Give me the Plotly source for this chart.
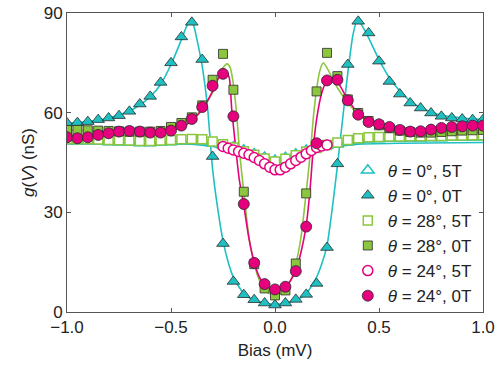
import plotly.graph_objects as go

# bias points of the measured spectra (mV)
bias = [round(-1 + 0.05 * i, 2) for i in range(41)]
bias_fine = [round(-0.25 + 0.025 * i, 3) for i in range(21)]

# measured conductance g(V) in nS
cyan_0T = [56.9, 57.0, 57.3, 57.9, 58.4, 59.1, 60.4, 62.6, 64.9, 69.1, 75.0, 82.8, 87.2, 76.0, 46.8,
           20.6, 9.2, 5.2, 3.7, 2.7, 2.1, 2.7, 3.8, 5.3, 8.6, 19.4, 44.6, 74.5, 87.5, 84.0,
           75.5, 69.4, 65.6, 62.9, 61.4, 59.9, 58.9, 58.4, 58.1, 57.9, 57.9]
green_5T = [52.0, 52.0, 52.0, 51.9, 51.8, 51.7, 51.6, 51.5, 51.5, 51.6, 51.8, 52.0, 52.1, 52.0, 51.3,
            50.5, 49.5, 48.4, 47.3, 46.2, 45.3, 46.1, 47.2, 48.3, 49.4, 50.3, 51.0, 51.8, 52.3, 52.6,
            52.7, 52.8, 52.8, 52.9, 52.9, 53.0, 53.0, 53.1, 53.1, 53.2, 53.2]
cyan_5T = [51.4, 51.4, 51.4, 51.3, 51.2, 51.1, 51.0, 50.9, 50.9, 51.0, 51.2, 51.4, 51.5, 51.4, 50.8,
           50.2, 49.6, 48.7, 47.6, 46.5, 45.6, 46.4, 47.5, 48.6, 49.5, 50.1, 50.5, 51.2, 51.7, 52.0,
           52.1, 52.2, 52.2, 52.3, 52.3, 52.4, 52.4, 52.5, 52.5, 52.6, 52.6]
green_0T = [54.8, 54.8, 54.7, 54.6, 54.5, 54.4, 54.3, 54.3, 54.3, 54.5, 55.7, 56.9, 58.6, 62.2, 69.9,
            77.7, 66.9, 36.2, 14.4, 7.1, 5.0, 6.5, 14.6, 35.7, 66.4, 78.0, 71.0, 64.0, 59.9, 57.5,
            56.2, 55.3, 54.6, 54.2, 54.0, 54.0, 54.2, 54.4, 54.6, 54.7, 54.8]
pink_0T = [52.6, 52.3, 52.6, 53.3, 53.8, 54.3, 54.5, 54.3, 54.0, 54.0, 54.6, 56.1, 58.1, 61.7, 68.1,
           71.7, 58.9, 32.5, 14.8, 8.4, 6.8, 7.6, 12.3, 25.7, 50.8, 69.7, 69.9, 63.7, 59.4, 57.2,
           56.5, 55.7, 54.8, 54.3, 54.4, 54.9, 55.4, 55.7, 55.9, 56.1, 56.1]
pink_5T = [49.8, 49.3, 48.8, 48.3, 47.8, 47.3, 46.5, 45.6, 44.6, 43.6, 42.8,
           42.8, 43.6, 44.6, 45.6, 46.6, 47.6, 48.6, 49.5, 50.0, 50.3]

# fitted curves
cyan_fit_x = [-1.0, -0.9, -0.8, -0.7, -0.65, -0.6, -0.55, -0.5, -0.45, -0.425, -0.405, -0.39, -0.375,
              -0.35, -0.325, -0.3, -0.275, -0.25, -0.225, -0.2, -0.15, -0.1, -0.05, 0.0, 0.05, 0.1,
              0.15, 0.2, 0.225, 0.25, 0.275, 0.3, 0.325, 0.35, 0.375, 0.395, 0.41, 0.425, 0.45, 0.5,
              0.55, 0.6, 0.65, 0.7, 0.8, 0.9, 1.0]
cyan_fit_y = [56.8, 57.3, 58.4, 60.5, 62.3, 64.8, 68.5, 74.5, 82.0, 86.0, 87.8, 86.0, 82.0,
              74.0, 62.0, 43.0, 31.0, 21.5, 15.0, 10.5, 5.5, 3.5, 2.7, 2.3, 2.7, 3.5,
              5.5, 10.5, 14.5, 20.0, 31.0, 44.0, 58.0, 72.0, 83.5, 87.8, 87.0, 85.5, 82.5, 76.0,
              70.5, 66.5, 63.5, 61.5, 59.2, 58.4, 57.9]
green_fit_x = [-1.0, -0.8, -0.6, -0.5, -0.45, -0.4, -0.35, -0.3, -0.275, -0.25, -0.23, -0.215, -0.2,
               -0.185, -0.17, -0.15, -0.125, -0.1, -0.075, -0.05, -0.025, 0.0, 0.025, 0.05, 0.075,
               0.1, 0.125, 0.15, 0.17, 0.185, 0.2, 0.215, 0.232, 0.25, 0.275, 0.3, 0.35, 0.4, 0.45,
               0.5, 0.6, 0.7, 0.8, 1.0]
green_fit_y = [54.8, 54.4, 54.5, 55.3, 56.5, 58.3, 61.2, 66.0, 70.0, 73.5, 74.7, 73.5, 68.5,
               60.0, 48.0, 36.0, 22.5, 14.5, 9.5, 6.8, 5.5, 5.1, 5.5, 6.8, 9.5,
               14.5, 22.5, 36.0, 48.0, 59.0, 67.0, 72.5, 75.0, 73.5, 70.5, 67.5, 63.0, 59.5, 57.3,
               56.0, 54.8, 54.2, 54.3, 54.8]
pink_fit_x = [-1.0, -0.8, -0.6, -0.5, -0.45, -0.4, -0.35, -0.3, -0.275, -0.25, -0.235, -0.22, -0.208,
              -0.19, -0.172, -0.15, -0.125, -0.1, -0.075, -0.05, -0.025, 0.0, 0.025, 0.05, 0.075,
              0.1, 0.125, 0.15, 0.168, 0.185, 0.2, 0.225, 0.25, 0.275, 0.3, 0.35, 0.4, 0.45, 0.5,
              0.6, 0.7, 0.8, 0.9, 1.0]
pink_fit_y = [52.6, 53.8, 54.2, 54.6, 55.6, 57.5, 61.0, 66.5, 70.0, 72.0, 72.3, 70.5, 61.0,
              50.0, 40.0, 32.0, 22.0, 15.0, 10.5, 8.2, 7.0, 6.6, 7.0, 7.8, 9.5,
              12.5, 18.0, 26.0, 36.5, 50.0, 58.0, 66.0, 69.7, 70.4, 69.3, 64.0, 59.8, 57.6, 56.4,
              54.9, 54.5, 55.3, 55.9, 56.1]
fit5T_x = [-1.0, -0.6, -0.4, -0.3, -0.2, -0.1, 0.0, 0.1, 0.2, 0.3, 0.4, 0.6, 1.0]
cyan_fit5T_y = [50.8, 50.8, 50.5, 49.8, 48.6, 47.0, 45.8, 47.0, 48.6, 49.8, 50.5, 50.8, 51.0]
green_fit5T_y = [51.5, 51.3, 51.2, 50.6, 49.2, 47.3, 45.5, 47.3, 49.2, 50.6, 51.6, 52.2, 52.6]

CYAN = "#1FC0C2"
GREEN = "#8CC63E"
PINK = "#E6007E"
EDGE = "#2a2a2a"

fig = go.Figure()

# fit lines (behind markers)
for fx, fy, col in [(fit5T_x, cyan_fit5T_y, CYAN), (fit5T_x, green_fit5T_y, GREEN),
                    (cyan_fit_x, cyan_fit_y, CYAN), (green_fit_x, green_fit_y, GREEN),
                    (pink_fit_x, pink_fit_y, PINK)]:
    fig.add_trace(go.Scatter(x=fx, y=fy, mode="lines", showlegend=False, hoverinfo="skip",
                             line=dict(color=col, width=1.6, shape="spline", smoothing=0.6)))

theta = "<i>θ</i>"
fig.add_trace(go.Scatter(x=bias, y=cyan_5T, mode="markers", name=f"{theta} = 0°, 5T", legendrank=1,
                         marker=dict(symbol="triangle-up", size=11, color="white",
                                     line=dict(color=CYAN, width=1.5))))
fig.add_trace(go.Scatter(x=bias, y=green_5T, mode="markers", name=f"{theta} = 28°, 5T", legendrank=3,
                         marker=dict(symbol="square", size=9, color="white",
                                     line=dict(color=GREEN, width=1.5))))
fig.add_trace(go.Scatter(x=bias_fine, y=pink_5T, mode="markers", name=f"{theta} = 24°, 5T", legendrank=5,
                         marker=dict(symbol="circle", size=10, color="white",
                                     line=dict(color=PINK, width=1.5))))
fig.add_trace(go.Scatter(x=bias, y=cyan_0T, mode="markers", name=f"{theta} = 0°, 0T", legendrank=2,
                         marker=dict(symbol="triangle-up", size=11, color=CYAN,
                                     line=dict(color=EDGE, width=0.8))))
fig.add_trace(go.Scatter(x=bias, y=green_0T, mode="markers", name=f"{theta} = 28°, 0T", legendrank=4,
                         marker=dict(symbol="square", size=9, color=GREEN,
                                     line=dict(color=EDGE, width=0.8))))
fig.add_trace(go.Scatter(x=bias, y=pink_0T, mode="markers", name=f"{theta} = 24°, 0T", legendrank=6,
                         marker=dict(symbol="circle", size=11, color=PINK,
                                     line=dict(color=EDGE, width=0.8))))

axis_common = dict(showline=True, linecolor="#555555", linewidth=1, mirror="allticks",
                   ticks="inside", ticklen=4, tickcolor="#555555", showgrid=False, zeroline=False,
                   automargin=False, ticklabeloverflow="allow",
                   tickfont=dict(size=17, color="#222222"))

fig.update_xaxes(range=[-1, 1], tickvals=[-1, -0.5, 0, 0.5, 1], tickformat=".1f",
                 title=dict(text="Bias (mV)", font=dict(size=17, color="#222222"), standoff=7),
                 **axis_common)
fig.update_yaxes(range=[0, 90], tickvals=[0, 30, 60, 90],
                 title=dict(text="<i>g</i>(<i>V</i>) (nS)", font=dict(size=17, color="#222222"), standoff=4),
                 **axis_common)

fig.update_layout(
    width=498, height=374,
    margin=dict(l=67, r=15, t=13, b=62),
    paper_bgcolor="white", plot_bgcolor="white",
    font=dict(family="Liberation Sans, Arial, sans-serif", color="#222222"),
    legend=dict(x=0.675, y=0.533, xanchor="left", yanchor="top", bgcolor="rgba(0,0,0,0)",
                font=dict(size=17, color="#222222"), itemwidth=30, tracegroupgap=0),
)

# drop the default 8 px page margin so the figure fills the window exactly
fig.write_html("out.html", config={"displayModeBar": False},
               post_script="document.body.style.margin = '0';")
